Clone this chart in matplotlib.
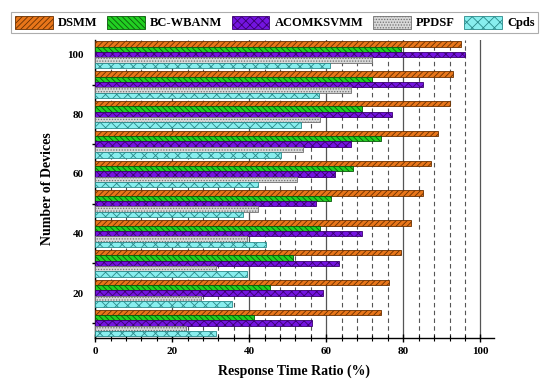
import matplotlib.pyplot as plt
from matplotlib.ticker import MultipleLocator, FixedLocator
import numpy as np

plt.rcParams['font.family'] = ['Liberation Serif', 'DejaVu Serif']
plt.rcParams['font.weight'] = 'bold'
plt.rcParams['hatch.linewidth'] = 0.6

devices = [10, 20, 30, 40, 50, 60, 70, 80, 90, 100]
methods = ['DSMM', 'BC-WBANM', 'ACOMKSVMM', 'PPDSF', 'Cpds']

dsmm = [74.3, 76.2, 79.3, 82.1, 85.0, 87.3, 89.1, 92.2, 93.0, 95.1]
bc_wbanm = [41.2, 45.3, 51.3, 58.3, 61.3, 67.0, 74.1, 69.2, 72.0, 79.3]
acomksvmm = [56.2, 59.1, 63.2, 69.2, 57.3, 62.2, 66.3, 77.1, 85.0, 96.1]
ppdsf = [23.6, 27.5, 31.3, 39.4, 42.2, 52.3, 54.0, 58.3, 66.3, 72.0]
cpds = [31.3, 35.5, 39.4, 44.3, 38.3, 42.2, 48.2, 53.4, 58.0, 61.0]

series = [dsmm, bc_wbanm, acomksvmm, ppdsf, cpds]
colors = ['#E8761A', '#22D022', '#7414E0', '#D8D8D8', '#88EEEE']
hatches = ['//////', '\\\\\\\\\\\\', 'xxxx', '......', 'xxx']
edges = ['#6A3000', '#0A5A0A', '#3A0070', '#707070', '#2A8A8A']

fig = plt.figure(figsize=(5.53, 3.87), dpi=100)
ax = fig.add_axes([0.172, 0.127, 0.721, 0.77])

y = np.array(devices, dtype=float)
bh = 1.8
for i, (vals, name) in enumerate(zip(series, methods)):
    ax.barh(y + (2 - i) * bh, vals, height=bh, color=colors[i], hatch=hatches[i],
            edgecolor=edges[i], linewidth=0.6, label=name, zorder=3)

ax.set_xlim(0, 103.5)
ax.set_ylim(5, 105)

# grid: solid at majors, dashed at minors
ax.xaxis.set_major_locator(MultipleLocator(20))
ax.xaxis.set_minor_locator(MultipleLocator(4))
ax.grid(axis='x', which='major', color='#555555', linestyle='-', linewidth=0.9, zorder=0)
ax.grid(axis='x', which='minor', color='#555555', linestyle=(0, (4, 3)), linewidth=0.8, zorder=0)
ax.set_axisbelow(True)

ax.yaxis.set_major_locator(FixedLocator([20, 40, 60, 80, 100]))
ax.yaxis.set_minor_locator(FixedLocator([10, 30, 50, 70, 90]))
ax.tick_params(axis='y', which='major', length=0, labelsize=8, pad=8)
ax.tick_params(axis='y', which='minor', length=4, direction='inout', width=1)
ax.tick_params(axis='x', which='major', length=6, direction='inout', width=1, labelsize=8)
ax.tick_params(axis='x', which='minor', length=5, direction='inout', width=0.8)

ax.spines['top'].set_visible(False)
ax.spines['right'].set_visible(False)
ax.spines['left'].set_linewidth(1)
ax.spines['bottom'].set_linewidth(1)

ax.set_xlabel('Response Time Ratio (%)', fontsize=10, fontweight='bold', labelpad=6)
ax.set_ylabel('Number of Devices', fontsize=10, fontweight='bold', labelpad=10)

leg = fig.legend(loc='upper center', bbox_to_anchor=(0.497, 0.985), ncol=5,
                 fontsize=9, frameon=True, fancybox=False, edgecolor='#999999',
                 handlelength=3.0, handleheight=1.2, columnspacing=0.8,
                 handletextpad=0.4, borderpad=0.3)
leg.get_frame().set_linewidth(0.8)

fig.savefig('out.png', dpi=100)
